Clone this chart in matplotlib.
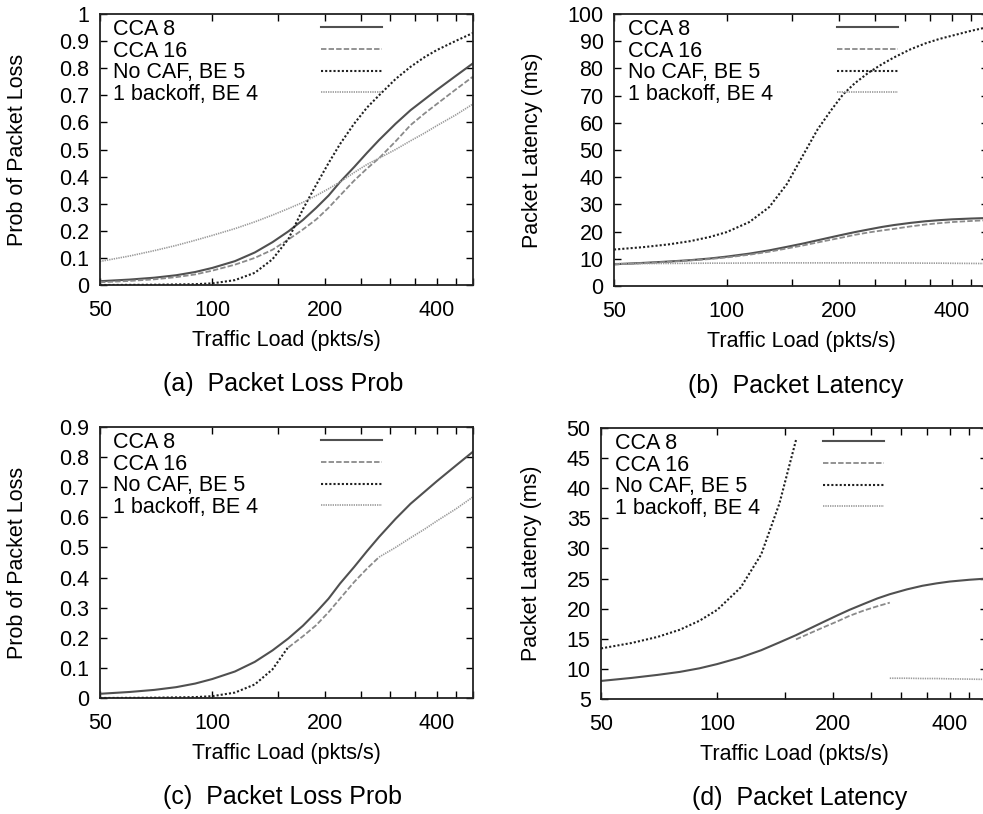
import numpy as np
import matplotlib
matplotlib.use("Agg")
import matplotlib.pyplot as plt
from matplotlib.ticker import FixedLocator, FixedFormatter, NullLocator

plt.rcParams['font.family'] = ['Liberation Sans', 'DejaVu Sans']

# ---------------- data ----------------
x_load = [50, 60, 70, 80, 90, 100, 115, 130, 145, 160, 175, 190, 205, 220,
          240, 260, 280, 310, 340, 370, 400, 450, 500]

loss_cca8 = [0.014, 0.020, 0.027, 0.036, 0.048, 0.063, 0.088, 0.120, 0.158, 0.198,
             0.240, 0.285, 0.330, 0.380, 0.435, 0.488, 0.535, 0.595, 0.645, 0.684,
             0.720, 0.772, 0.818]
loss_cca16 = [0.010, 0.015, 0.021, 0.029, 0.039, 0.053, 0.075, 0.100, 0.130, 0.168,
              0.205, 0.242, 0.285, 0.330, 0.385, 0.430, 0.468, 0.530, 0.590, 0.632,
              0.668, 0.722, 0.769]
loss_nocaf = [0.000, 0.0005, 0.001, 0.002, 0.003, 0.006, 0.018, 0.045, 0.095, 0.170,
              0.280, 0.370, 0.450, 0.520, 0.595, 0.655, 0.700, 0.760, 0.805, 0.840,
              0.867, 0.901, 0.930]
loss_1bo = [0.087, 0.107, 0.127, 0.146, 0.165, 0.183, 0.208, 0.233, 0.258, 0.282,
            0.305, 0.330, 0.355, 0.380, 0.415, 0.445, 0.468, 0.500, 0.532, 0.560,
            0.588, 0.628, 0.668]

lat_cca8 = [8.0, 8.5, 9.0, 9.5, 10.1, 10.8, 11.9, 13.1, 14.4, 15.6, 16.8, 17.9,
            18.9, 19.8, 20.8, 21.7, 22.4, 23.2, 23.8, 24.2, 24.5, 24.8, 25.0]
lat_cca16 = [7.9, 8.4, 8.9, 9.4, 9.9, 10.5, 11.5, 12.6, 13.8, 14.9, 16.0, 17.0,
             17.9, 18.8, 19.7, 20.4, 21.0, 21.9, 22.6, 23.1, 23.5, 23.9, 24.2]
lat_nocaf = [13.4, 14.3, 15.3, 16.5, 18.0, 19.8, 23.5, 29.0, 37.5, 48.0, 57.5, 64.5,
             70.5, 74.5, 78.5, 81.5, 84.0, 87.0, 89.2, 90.8, 92.0, 93.8, 95.2]
lat_1bo = [8.2, 8.25, 8.3, 8.35, 8.4, 8.4, 8.45, 8.5, 8.5, 8.5, 8.5, 8.5,
           8.5, 8.5, 8.5, 8.5, 8.45, 8.45, 8.4, 8.4, 8.35, 8.3, 8.25]

# load ranges used by the adaptive scheme in panels (c) and (d)
nocaf_upto = 160
cca16_range = (160, 280)
bo_from = 280

series_names = ["CCA 8", "CCA 16", "No CAF, BE 5", "1 backoff, BE 4"]
x_ticks = [50, 100, 150, 200, 250, 300, 350, 400, 450, 500]
x_ticklabels = ["50", "100", "", "200", "", "", "", "400", "", ""]

loss_ticks_a = [0, 0.1, 0.2, 0.3, 0.4, 0.5, 0.6, 0.7, 0.8, 0.9, 1.0]
loss_labels_a = ["0", "0.1", "0.2", "0.3", "0.4", "0.5", "0.6", "0.7", "0.8", "0.9", "1"]
lat_ticks_b = list(range(0, 101, 10))
loss_ticks_c = [0, 0.1, 0.2, 0.3, 0.4, 0.5, 0.6, 0.7, 0.8, 0.9]
loss_labels_c = ["0", "0.1", "0.2", "0.3", "0.4", "0.5", "0.6", "0.7", "0.8", "0.9"]
lat_ticks_d = list(range(5, 51, 5))

captions = ["(a)  Packet Loss Prob", "(b)  Packet Latency",
            "(c)  Packet Loss Prob", "(d)  Packet Latency"]

# ---------------- styles ----------------
styles = [
    dict(color="#505050", lw=1.5, ls="-"),
    dict(color="#8a8a8a", lw=1.3, ls=(0, (3.0, 1.2))),
    dict(color="#202020", lw=1.5, ls=(0, (1.0, 1.0))),
    dict(color="#9a9a9a", lw=1.2, ls=(0, (0.8, 0.6))),
]

W, H = 983, 814
fig = plt.figure(figsize=(W / 100, H / 100), dpi=100)

def add_axes_px(left, top, right, bottom):
    return fig.add_axes([left / W, 1 - bottom / H, (right - left) / W, (bottom - top) / H])

ax_a = add_axes_px(100, 14, 473, 285)
ax_b = add_axes_px(614, 14, 988, 286)
ax_c = add_axes_px(100, 427, 473, 698)
ax_d = add_axes_px(601, 428, 987, 699)

FS = 15.5      # labels / legend
TFS = 15.5     # tick labels
CFS = 18       # captions
x = np.array(x_load, dtype=float)

def style_axes(ax, yticks, ylabels, ylim, ylabel, caption, cap_x):
    ax.set_xscale("log")
    ax.set_xlim(50, 500)
    ax.set_ylim(*ylim)
    ax.xaxis.set_major_locator(FixedLocator(x_ticks))
    ax.xaxis.set_major_formatter(FixedFormatter(x_ticklabels))
    ax.xaxis.set_minor_locator(NullLocator())
    ax.yaxis.set_major_locator(FixedLocator(yticks))
    ax.yaxis.set_major_formatter(FixedFormatter(ylabels))
    ax.yaxis.set_minor_locator(NullLocator())
    ax.tick_params(direction="in", length=5, width=1.0, top=True, right=True,
                   labelsize=TFS, colors="black")
    ax.tick_params(axis="x", pad=11)
    ax.tick_params(axis="y", pad=7.5)
    for s in ax.spines.values():
        s.set_linewidth(1.3)
        s.set_color("#222222")
    ax.set_xlabel("Traffic Load (pkts/s)", fontsize=FS)
    ax.xaxis.label.set_va("center")
    ax.xaxis.set_label_coords(0.5, -0.203)
    ax.set_ylabel(ylabel, fontsize=FS)
    ax.yaxis.label.set_va("center")
    ax.text(cap_x, -0.366, caption, transform=ax.transAxes, ha="center",
            va="center", fontsize=CFS)

def add_legend(ax, handles, text_x, sample_x):
    kw = dict(loc="upper left", frameon=False, fontsize=FS, handletextpad=0,
              borderpad=0, borderaxespad=0, labelspacing=0.03)
    leg1 = ax.legend(handles, series_names, bbox_to_anchor=(text_x, 0.982),
                     handlelength=0, **kw)
    for h in leg1.legend_handles:
        h.set_visible(False)
    ax.add_artist(leg1)
    ax.legend(handles, [""] * 4, bbox_to_anchor=(sample_x, 0.982),
              handlelength=61 / (FS * 100 / 72), **kw)

# (a)
ha = []
for yv, st in zip([loss_cca8, loss_cca16, loss_nocaf, loss_1bo], styles):
    ha.append(ax_a.plot(x, yv, **st)[0])
style_axes(ax_a, loss_ticks_a, loss_labels_a, (0, 1), "Prob of Packet Loss",
           captions[0], 0.49)
ax_a.yaxis.set_label_coords(-0.22, 0.5)
add_legend(ax_a, ha, 0.035, 0.592)

# (b)
hb = []
for yv, st in zip([lat_cca8, lat_cca16, lat_nocaf, lat_1bo], styles):
    hb.append(ax_b.plot(x, yv, **st)[0])
style_axes(ax_b, lat_ticks_b, [str(t) for t in lat_ticks_b], (0, 100),
           "Packet Latency (ms)", captions[1], 0.485)
ax_b.yaxis.set_label_coords(-0.219, 0.5)
add_legend(ax_b, hb, 0.037, 0.595)

# (c) and (d): adaptive scheme
m_nocaf = x <= nocaf_upto
m_cca16 = (x >= cca16_range[0]) & (x <= cca16_range[1])
m_bo = x >= bo_from

def draw_adaptive(ax, y8, y16, ync, ybo):
    h = [ax.plot(x, y8, **styles[0])[0],
         ax.plot(x[m_cca16], np.array(y16)[m_cca16], **styles[1])[0],
         ax.plot(x[m_nocaf], np.array(ync)[m_nocaf], **styles[2])[0],
         ax.plot(x[m_bo], np.array(ybo)[m_bo], **styles[3])[0]]
    return h

hc = draw_adaptive(ax_c, loss_cca8, loss_cca16, loss_nocaf, loss_1bo)
style_axes(ax_c, loss_ticks_c, loss_labels_c, (0, 0.9), "Prob of Packet Loss",
           captions[2], 0.488)
ax_c.yaxis.set_label_coords(-0.22, 0.5)
add_legend(ax_c, hc, 0.035, 0.592)

hd = draw_adaptive(ax_d, lat_cca8, lat_cca16, lat_nocaf, lat_1bo)
style_axes(ax_d, lat_ticks_d, [str(t) for t in lat_ticks_d], (5, 50),
           "Packet Latency (ms)", captions[3], 0.515)
ax_d.yaxis.set_label_coords(-0.179, 0.5)
add_legend(ax_d, hd, 0.036, 0.576)

fig.savefig("out.png", dpi=100)
